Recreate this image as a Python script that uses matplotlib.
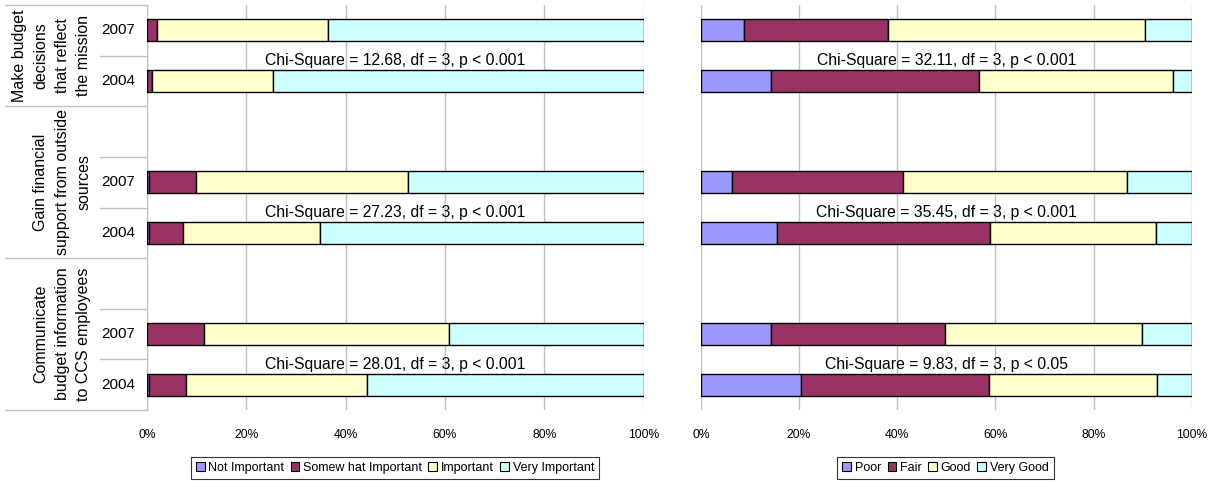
import matplotlib
matplotlib.use("Agg")
import matplotlib.pyplot as plt
from matplotlib.lines import Line2D
from matplotlib.patches import Patch

plt.rcParams['font.family'] = ['Liberation Sans', 'DejaVu Sans']

# question groups (top to bottom) and survey years inside each group
groups = ["Make budget\ndecisions\nthat reflect\nthe mission",
          "Gain financial\nsupport from outside\nsources",
          "Communicate\nbudget information\nto CCS employees"]
years = ["2007", "2004"]

# importance ratings, percent: rows = (group, year)
imp_labels = ["Not Important", "Somew hat Important", "Important", "Very Important"]
imp_not = [0.0, 0.0, 0.4, 0.4, 0.0, 0.4]
imp_some = [2.1, 1.1, 9.5, 6.8, 11.4, 7.5]
imp_imp = [34.3, 24.2, 42.7, 27.7, 49.4, 36.5]
imp_very = [63.6, 74.7, 47.4, 65.1, 39.2, 55.6]
imp_chi = ["Chi-Square = 12.68, df = 3, p < 0.001",
           "Chi-Square = 27.23, df = 3, p < 0.001",
           "Chi-Square = 28.01, df = 3, p < 0.001"]

# performance ratings, percent
perf_labels = ["Poor", "Fair", "Good", "Very Good"]
perf_poor = [8.8, 14.2, 6.4, 15.6, 14.2, 20.5]
perf_fair = [29.3, 42.4, 34.8, 43.4, 35.6, 38.1]
perf_good = [52.3, 39.5, 45.6, 33.7, 40.0, 34.3]
perf_very = [9.6, 3.9, 13.2, 7.3, 10.2, 7.1]
perf_chi = ["Chi-Square = 32.11, df = 3, p < 0.001",
            "Chi-Square = 35.45, df = 3, p < 0.001",
            "Chi-Square = 9.83, df = 3, p < 0.05"]

colors = ["#9999FF", "#993366", "#FFFFCC", "#CCFFFF"]
grid_c = "#C0C0C0"

# slot positions: first group has no spacer row, the others have one blank row on top
positions = [0, 1, 3, 4, 6, 7]
group_centers = [0.5, 3.0, 6.0]

W, H = 1211, 483
fig = plt.figure(figsize=(W / 100, H / 100), dpi=100)
ax_l = fig.add_axes([147 / W, (H - 410) / H, 496.5 / W, 405 / H])
ax_r = fig.add_axes([700.8 / W, (H - 410) / H, 491 / W, 405 / H])


def draw_panel(ax, series, chi):
    left = [0.0] * len(positions)
    for vals, c in zip(series, colors):
        ax.barh(positions, vals, left=left, height=0.43, color=c,
                edgecolor="black", linewidth=1.0, zorder=3)
        left = [a + b for a, b in zip(left, vals)]
    for i, txt in enumerate(chi):
        ax.text(50, positions[2 * i + 1] - 0.40, txt, ha="center", va="center",
                fontsize=11.3, zorder=4)
    ax.set_xlim(0, 100)
    ax.set_ylim(7.5, -0.5)
    ax.set_xticks(range(0, 101, 20))
    ax.set_xticklabels([f"{t}%" for t in range(0, 101, 20)], fontsize=8.7)
    ax.tick_params(axis="x", length=0, pad=14)
    ax.set_yticks([])
    ax.grid(axis="x", color=grid_c, linewidth=1.0, zorder=0)
    for s in ["top", "right", "bottom", "left"]:
        ax.spines[s].set_visible(False)


draw_panel(ax_l, [imp_not, imp_some, imp_imp, imp_very], imp_chi)
draw_panel(ax_r, [perf_poor, perf_fair, perf_good, perf_very], perf_chi)

# left panel: category axis with year labels and group labels
ax_l.spines["left"].set_visible(True)
ax_l.spines["left"].set_color(grid_c)
tr = ax_l.get_yaxis_transform()
for k, p in enumerate(positions):
    ax_l.text(-0.0584, p, years[k % 2], transform=tr, ha="center", va="center",
              fontsize=11)
for name, yc in zip(groups, group_centers):
    ax_l.text(-0.112, yc, name, transform=tr, rotation=90, ha="right",
              va="center", multialignment="center", fontsize=11.5, linespacing=1.55)
for y in [-0.5, 1.5, 4.5, 7.5]:
    ax_l.add_line(Line2D([-0.286, 0], [y, y], transform=tr, color=grid_c,
                         linewidth=1.0, clip_on=False))
for y in [0.5, 2.5, 3.5, 5.5, 6.5]:
    ax_l.add_line(Line2D([-0.0947, 0], [y, y], transform=tr, color=grid_c,
                         linewidth=1.0, clip_on=False))

# legends under each panel
for labels, xc in [(imp_labels, 395 / W), (perf_labels, 945.5 / W)]:
    handles = [Patch(facecolor=c, edgecolor="black", linewidth=0.8) for c in colors]
    leg = fig.legend(handles, labels, loc="center", bbox_to_anchor=(xc, (H - 468) / H),
                     ncol=4, fontsize=9, frameon=True, fancybox=False,
                     handlelength=0.7, handleheight=0.7, handletextpad=0.3,
                     columnspacing=0.5, borderpad=0.4, borderaxespad=0)
    leg.get_frame().set_edgecolor("black")
    leg.get_frame().set_linewidth(0.8)

fig.savefig("out.png", dpi=100)
